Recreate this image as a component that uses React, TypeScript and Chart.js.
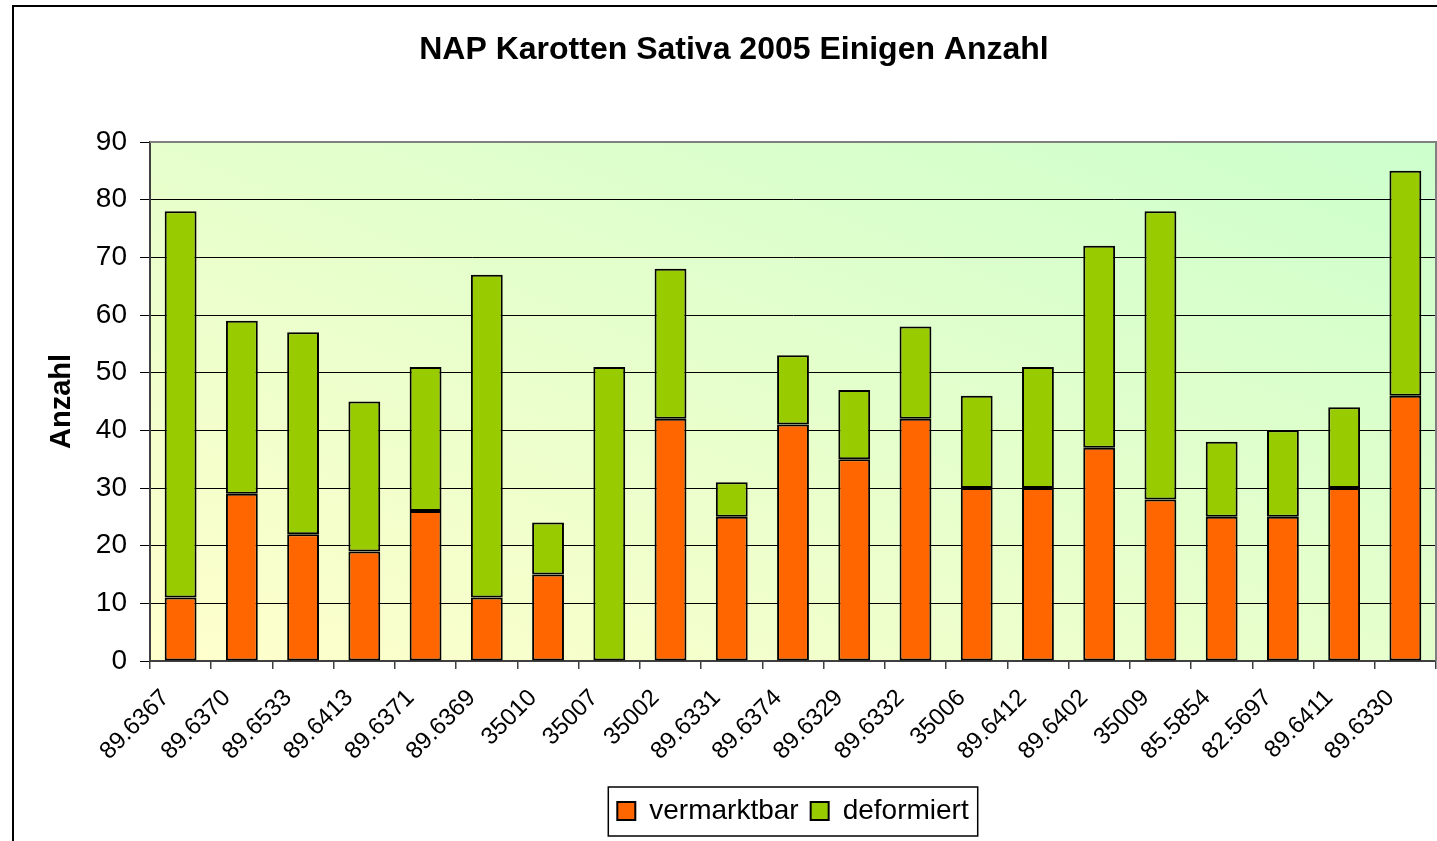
import React, { useEffect, useRef } from 'react';
import { Chart, registerables } from 'chart.js';

Chart.register(...registerables);

const categories = [
  '89.6367', '89.6370', '89.6533', '89.6413', '89.6371', '89.6369', '35010', '35007', '35002',
  '89.6331', '89.6374', '89.6329', '89.6332', '35006', '89.6412', '89.6402', '35009', '85.5854',
  '82.5697', '89.6411', '89.6330',
];
const vermarktbar = [11, 29, 22, 19, 26, 11, 15, 0, 42, 25, 41, 35, 42, 30, 30, 37, 28, 25, 25, 30, 46];
const deformiert = [67, 30, 35, 26, 25, 56, 9, 51, 26, 6, 12, 12, 16, 16, 21, 35, 50, 13, 15, 14, 39];
const seriesNames = ['vermarktbar', 'deformiert'];
const yMin = 0;
const yMax = 90;
const yStep = 10;
const titleText = 'NAP Karotten Sativa 2005 Einigen Anzahl';
const yAxisTitle = 'Anzahl';

const FONT = "'Liberation Sans', Arial, Helvetica, sans-serif";

export default function App() {
  const ref = useRef<HTMLCanvasElement>(null);

  useEffect(() => {
    if (!ref.current) return;

    const decor = {
      id: 'decor',
      beforeDraw(chart: any) {
        const { ctx, chartArea: a } = chart;
        ctx.save();
        ctx.fillStyle = '#ffffff';
        ctx.fillRect(0, 0, chart.width, chart.height);
        // outer frame
        ctx.strokeStyle = '#000000';
        ctx.lineWidth = 2;
        ctx.beginPath();
        ctx.moveTo(13, chart.height);
        ctx.lineTo(13, 6);
        ctx.lineTo(chart.width, 6);
        ctx.stroke();
        // plot gradient
        const w = a.right - a.left;
        const h = a.bottom - a.top;
        const ga = 1 / (2 * w);
        const gb = 1 / (2 * h);
        const n = ga * ga + gb * gb;
        const g = ctx.createLinearGradient(a.left, a.bottom, a.left + ga / n, a.bottom - gb / n);
        g.addColorStop(0, '#FFFFCC');
        g.addColorStop(1, '#CCFFCC');
        ctx.fillStyle = g;
        ctx.fillRect(a.left, a.top, w, h);
        ctx.restore();
      },
      afterDraw(chart: any) {
        const { ctx, chartArea: a } = chart;
        ctx.save();
        ctx.strokeStyle = '#808080';
        ctx.lineWidth = 2;
        ctx.beginPath();
        ctx.moveTo(a.left, a.top);
        ctx.lineTo(a.right, a.top);
        ctx.lineTo(a.right, a.bottom);
        ctx.stroke();
        const boxes = chart.legend && chart.legend.legendHitBoxes;
        if (boxes && boxes.length) {
          let minX = Infinity, maxX = -Infinity, minY = Infinity, maxY = -Infinity;
          boxes.forEach((b: any) => {
            minX = Math.min(minX, b.left);
            maxX = Math.max(maxX, b.left + b.width);
            minY = Math.min(minY, b.top);
            maxY = Math.max(maxY, b.top + b.height);
          });
          ctx.strokeStyle = '#000000';
          ctx.lineWidth = 1.5;
          ctx.strokeRect(minX - 9, minY - 10, maxX - minX + 18, maxY - minY + 21);
        }
        ctx.restore();
      },
    };

    const chart = new Chart(ref.current, {
      type: 'bar',
      data: {
        labels: categories,
        datasets: [
          {
            label: seriesNames[0],
            data: vermarktbar,
            backgroundColor: '#FF6600',
            borderColor: '#000000',
            borderWidth: 2,
            borderSkipped: false,
          },
          {
            label: seriesNames[1],
            data: deformiert,
            backgroundColor: '#99CC00',
            borderColor: '#000000',
            borderWidth: 2,
            borderSkipped: false,
          },
        ],
      },
      options: {
        animation: false,
        responsive: false,
        maintainAspectRatio: false,
        layout: { padding: { left: 32, right: 1, top: 0, bottom: 6 } },
        datasets: { bar: { barPercentage: 0.52, categoryPercentage: 1.0 } },
        plugins: {
          title: {
            display: true,
            text: titleText,
            color: '#000000',
            font: { family: FONT, size: 32, weight: 'bold' },
            padding: { top: 31, bottom: 72.6 },
          },
          tooltip: { enabled: false },
          legend: {
            display: true,
            position: 'bottom',
            fullSize: false,
            labels: {
              boxWidth: 18,
              boxHeight: 18,
              padding: 12,
              color: '#000000',
              font: { family: FONT, size: 28 },
            },
          },
        },
        scales: {
          x: {
            stacked: true,
            afterFit: (s: any) => { s.height = 124; s.paddingRight = 0; },
            grid: {
              display: true,
              drawOnChartArea: false,
              drawTicks: true,
              tickLength: 8,
              color: '#404040',
              lineWidth: 1.5,
              offset: true,
            },
            border: { display: true, color: '#404040', width: 2 },
            ticks: {
              autoSkip: false,
              minRotation: 45,
              maxRotation: 45,
              padding: 15,
              labelOffset: -15,
              color: '#000000',
              font: { family: FONT, size: 24 },
            },
          },
          y: {
            stacked: true,
            min: yMin,
            max: yMax,
            afterFit: (s: any) => { s.width = 118; },
            grid: {
              display: true,
              drawOnChartArea: true,
              drawTicks: true,
              tickLength: 10,
              color: '#000000',
              lineWidth: 1,
            },
            border: { display: true, color: '#404040', width: 2 },
            ticks: {
              stepSize: yStep,
              padding: 13,
              color: '#000000',
              font: { family: FONT, size: 28 },
            },
            title: {
              display: true,
              text: yAxisTitle,
              color: '#000000',
              font: { family: FONT, size: 29, weight: 'bold' },
              padding: { top: 12.6, bottom: 0 },
            },
          },
        },
      },
      plugins: [decor],
    });

    return () => chart.destroy();
  }, []);

  return (
    <div style={{ position: 'fixed', left: 0, top: 0, width: 1437, height: 841, background: '#fff' }}>
      <canvas ref={ref} width={1437} height={841} style={{ display: 'block' }} />
    </div>
  );
}
